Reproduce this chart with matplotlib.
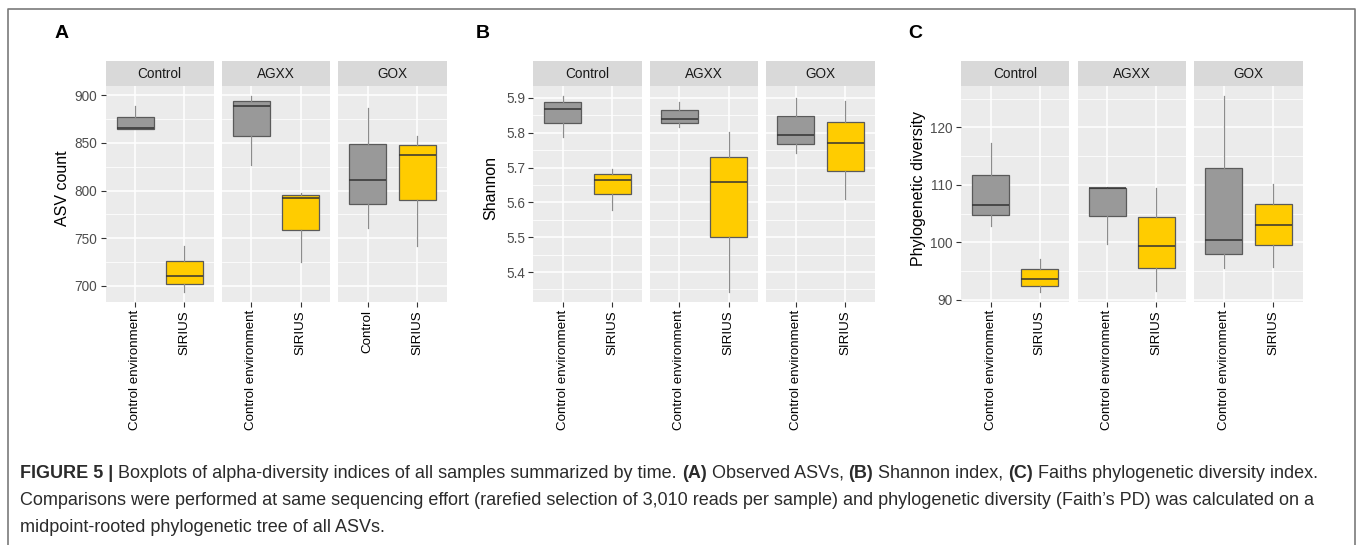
import matplotlib
matplotlib.use("Agg")
import matplotlib.pyplot as plt
from matplotlib.patches import Rectangle
from matplotlib.lines import Line2D
from matplotlib.text import Annotation

plt.rcParams['font.family'] = ['Liberation Sans', 'DejaVu Sans']

W, H = 1360, 545

# ---------------- data ----------------
facets = ["Control", "AGXX", "GOX"]
xlabels_A = [["Control environment", "SIRIUS"], ["Control environment", "SIRIUS"], ["Control", "SIRIUS"]]
xlabels_B = [["Control environment", "SIRIUS"], ["Control environment", "SIRIUS"], ["Control environment", "SIRIUS"]]
xlabels_C = [["Control environment", "SIRIUS"], ["Control environment", "SIRIUS"], ["Control environment", "SIRIUS"]]

# order: Control/env, Control/SIRIUS, AGXX/env, AGXX/SIRIUS, GOX/ctrl, GOX/SIRIUS
asv_whislo = [865.0, 693.7, 827.0, 724.6, 760.4, 742.0]
asv_q1     = [865.0, 701.5, 857.6, 758.3, 786.0, 789.9]
asv_med    = [865.3, 710.0, 888.4, 792.7, 811.6, 837.6]
asv_q3     = [877.3, 726.0, 894.4, 795.2, 848.8, 847.4]
asv_whishi = [889.0, 742.0, 899.4, 797.4, 886.3, 857.6]

sh_whislo = [5.787, 5.579, 5.817, 5.343, 5.743, 5.611]
sh_q1     = [5.827, 5.624, 5.828, 5.501, 5.767, 5.690]
sh_med    = [5.867, 5.665, 5.839, 5.659, 5.794, 5.771]
sh_q3     = [5.887, 5.681, 5.864, 5.731, 5.848, 5.831]
sh_whishi = [5.906, 5.696, 5.888, 5.801, 5.901, 5.891]

pd_whislo = [102.9, 91.4, 99.8, 91.6, 95.6, 95.8]
pd_q1     = [104.7, 92.5, 104.6, 95.5, 98.0, 99.5]
pd_med    = [106.5, 93.6, 109.4, 99.4, 100.4, 103.1]
pd_q3     = [111.8, 95.4, 109.5, 104.4, 113.0, 106.7]
pd_whishi = [117.3, 97.2, 109.6, 109.5, 125.5, 110.1]

asv_ticks = [700, 750, 800, 850, 900]
asv_minor = [725, 775, 825, 875]
asv_ticklabels = ["700", "750", "800", "850", "900"]
sh_ticks = [5.4, 5.5, 5.6, 5.7, 5.8, 5.9]
sh_minor = [5.35, 5.45, 5.55, 5.65, 5.75, 5.85]
sh_ticklabels = ["5.4", "5.5", "5.6", "5.7", "5.8", "5.9"]
pd_ticks = [90, 100, 110, 120]
pd_minor = [95, 105, 115, 125]
pd_ticklabels = ["90", "100", "110", "120"]

box_colors = ["#999999", "#FFCC00"]

# ---------------- layout (pixels) ----------------
plot_top, plot_bot = 86, 301.7
strip_top = 61
facet_x = {
    "A": [(105.7, 213.7), (222, 330), (338.3, 446.7)],
    "B": [(533.3, 641.7), (650, 758), (766.3, 875)],
    "C": [(961, 1069.3), (1077.7, 1185.7), (1194, 1302.7)],
}

fig = plt.figure(figsize=(W / 100, H / 100), dpi=100)
fig.patch.set_facecolor("white")


def fx(x):
    return x / W


def fy(y):
    return 1 - y / H


def draw_panel(key, wl, q1, med, q3, wh, ticks, minor, ticklabels, xlabels, ylabel, ylabel_x, letter_x):
    lo, hi = min(wl), max(wh)
    pad = 0.05 * (hi - lo)
    ylim = (lo - pad, hi + pad)
    for i, (x0, x1) in enumerate(facet_x[key]):
        ax = fig.add_axes([fx(x0), fy(plot_bot), fx(x1) - fx(x0), (plot_bot - plot_top) / H])
        ax.set_facecolor("#EBEBEB")
        for s in ax.spines.values():
            s.set_visible(False)
        stats = []
        for j in range(2):
            k = 2 * i + j
            stats.append(dict(med=med[k], q1=q1[k], q3=q3[k], whislo=wl[k], whishi=wh[k], fliers=[]))
        res = ax.bxp(stats, positions=[1, 2], widths=0.75, patch_artist=True,
                     showfliers=False, showcaps=False,
                     boxprops=dict(edgecolor="#5A5A5A", linewidth=0.9),
                     whiskerprops=dict(color="#8C8C8C", linewidth=0.9),
                     medianprops=dict(color="#333333", linewidth=1.1))
        for patch, c in zip(res["boxes"], box_colors):
            patch.set_facecolor(c)
        for art in res["boxes"] + res["medians"] + res["whiskers"]:
            art.set_zorder(3)
        ax.set_xlim(0.4, 2.6)
        ax.set_ylim(*ylim)
        ax.set_yticks(ticks)
        ax.set_yticks(minor, minor=True)
        ax.set_xticks([1, 2])
        ax.set_xticklabels(xlabels[i], rotation=90, fontsize=9.6, color="black")
        ax.grid(which="major", color="white", linewidth=1.1, zorder=0)
        ax.grid(which="minor", axis="y", color="white", linewidth=0.55, zorder=0)
        ax.set_axisbelow(True)
        ax.tick_params(axis="both", which="major", length=3.5, width=0.8, color="#333333", pad=2.5)
        ax.tick_params(axis="both", which="minor", length=0)
        if i == 0:
            ax.set_yticklabels(ticklabels, fontsize=9.8, color="#4D4D4D")
        else:
            ax.tick_params(axis="y", which="major", length=0, labelleft=False)
        # strip
        fig.patches.append(Rectangle((fx(x0), fy(plot_top)), fx(x1) - fx(x0), (plot_top - strip_top) / H,
                                     transform=fig.transFigure, facecolor="#D9D9D9", edgecolor="none"))
        fig.text(fx((x0 + x1) / 2), fy((plot_top + strip_top) / 2), facets[i], ha="center", va="center",
                 fontsize=9.8, color="#1A1A1A")
    fig.text(fx(ylabel_x), fy(188), ylabel, rotation=90, ha="center", va="center", fontsize=11.5, color="black")
    fig.text(fx(letter_x), fy(34), key, ha="center", va="center", fontsize=14, fontweight="bold", color="black")


draw_panel("A", asv_whislo, asv_q1, asv_med, asv_q3, asv_whishi, asv_ticks, asv_minor, asv_ticklabels,
           xlabels_A, "ASV count", 62.7, 62)
draw_panel("B", sh_whislo, sh_q1, sh_med, sh_q3, sh_whishi, sh_ticks, sh_minor, sh_ticklabels,
           xlabels_B, "Shannon", 490.7, 483)
draw_panel("C", pd_whislo, pd_q1, pd_med, pd_q3, pd_whishi, pd_ticks, pd_minor, pd_ticklabels,
           xlabels_C, "Phylogenetic diversity", 919, 915)

# frame around the figure
fig.add_artist(Line2D([fx(8), fx(8), fx(1355), fx(1355)], [0, fy(9), fy(9), 0],
                      transform=fig.transFigure, color="#7A7A7A", linewidth=1.2))

# caption
cap_fs = 13
cap_color = "#2B2B2B"
space_pt = 0.278 * cap_fs
caption_lines = [
    [("FIGURE 5 |", True), ("Boxplots of alpha-diversity indices of all samples summarized by time.", False),
     ("(A)", True), ("Observed ASVs,", False), ("(B)", True), ("Shannon index,", False),
     ("(C)", True), ("Faiths phylogenetic diversity index.", False)],
    [("Comparisons were performed at same sequencing effort (rarefied selection of 3,010 reads per sample) "
      "and phylogenetic diversity (Faith\u2019s PD) was calculated on a", False)],
    [("midpoint-rooted phylogenetic tree of all ASVs.", False)],
]
caption_baselines = [478, 505, 532]
for parts, yb in zip(caption_lines, caption_baselines):
    prev = None
    for txt, bold in parts:
        w = "bold" if bold else "normal"
        if prev is None:
            prev = fig.text(fx(20), fy(yb), txt, ha="left", va="baseline", fontsize=cap_fs,
                            fontweight=w, color=cap_color)
        else:
            a = Annotation(txt, xy=(1, fy(yb)), xycoords=(prev, "figure fraction"),
                           xytext=(space_pt, 0), textcoords="offset points",
                           ha="left", va="baseline", fontsize=cap_fs, fontweight=w, color=cap_color,
                           annotation_clip=False)
            fig.add_artist(a)
            prev = a

fig.savefig("out.png", dpi=100)
